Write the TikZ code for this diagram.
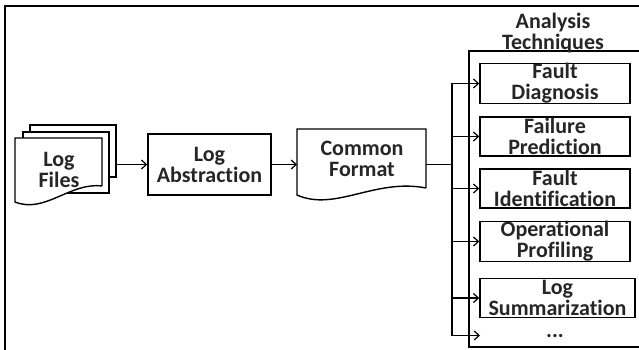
\documentclass[tikz,border=0pt]{standalone}
\usepackage{fontspec}
\setmainfont{Carlito}[Ligatures=NoCommon]
\usetikzlibrary{arrows.meta}
\begin{document}
\begin{tikzpicture}[x=1pt,y=-1pt,
  line width=1.4pt,
  lbl/.style={font=\fontsize{22}{21}\selectfont\bfseries, text=black!85, align=center, inner sep=0pt},
  techbox/.style={lbl, draw, minimum width=150pt, minimum height=39pt},
  flow/.style={-{Straight Barb[length=5pt,width=9pt]}, line width=1.2pt}]
\fill[white] (0,0) rectangle (639,350);
\useasboundingbox (0,0) rectangle (639,350);

% outer frame, open at the right and bottom
\draw (5,350) -- (5,6) -- (639,6);

% stacked log file pages
\draw[fill=white] (30,125) rectangle (116,177);
\draw[fill=white] (23,132) rectangle (109,193);
\draw[fill=white] (102,186) -- (102,138) -- (15,138) -- (15,202)
  .. controls (45,214) and (70,182) .. (102,186);
\node[lbl] (files) at (59,170) {Log\\Files};
\coordinate (files out) at (116,164.5);

% abstraction step
\node[lbl, draw, minimum width=123pt, minimum height=61pt] (abs) at (209.5,164.5) {Log\\Abstraction};

% common format document
\draw[fill=white] (426,188) -- (426,129) -- (297,129) -- (297,195)
  .. controls (335,212) and (375,178) .. (426,188);
\node[lbl] (cf) at (362,159) {Common\\Format};
\coordinate (cf in) at (297,164.5);
\coordinate (cf out) at (426,164.5);

% analysis techniques container
\draw (639,51) -- (469,51) -- (469,347) -- (639,347);
\node[lbl] (title) at (553,33) {Analysis\\Techniques};

\node[techbox] (fd) at (555,83.5) {Fault\\Diagnosis};
\node[techbox] (fp) at (555,136.5) {Failure\\Prediction};
\node[techbox] (fi) at (555,188.5) {Fault\\Identification};
\node[techbox] (op) at (555,241.5) {Operational\\Profiling};
\node[techbox, minimum width=155pt] (ls) at (557.5,298) {Log\\Summarization};
\node[lbl] (more) at (555,336) {...};
\coordinate (more in) at (480,335.5);

% connectors
\coordinate (bus) at (452,164.5);
\draw[flow] (files out) -- (abs.west);
\draw[flow] (abs.east) -- (cf in);
\draw (cf out) -- (bus);
\draw (fd.west -| bus) -- (more in -| bus);
\foreach \t in {fd,fp,fi,op,ls}
  \draw[flow] (\t.west -| bus) -- (\t.west);
\draw[flow] (more in -| bus) -- (more in);
\end{tikzpicture}
\end{document}
